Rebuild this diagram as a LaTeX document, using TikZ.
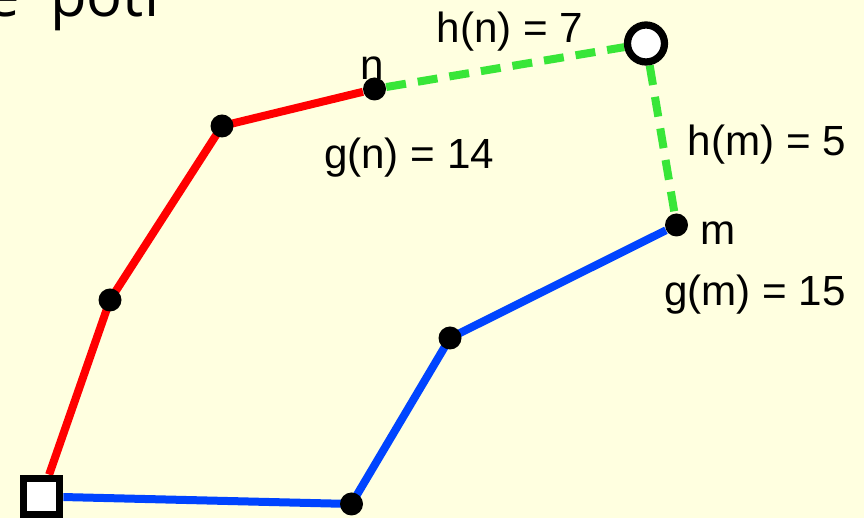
\documentclass[tikz,border=0pt]{standalone}
\usepackage{fontspec}
\setmainfont{Liberation Sans}
\newfontfamily\headfont{Open Sans}
\usepackage{xcolor}
\usepackage{tikz}
\usetikzlibrary{
  positioning,
  backgrounds
}
\definecolor{paper}{RGB}{255,255,224}
\definecolor{pathred}{RGB}{255,0,0}
\definecolor{pathblue}{RGB}{0,68,255}
\definecolor{estgreen}{RGB}{56,230,56}

\begin{document}
\begin{tikzpicture}[x=0.2mm, y=-0.2mm,
  dot/.style={circle, fill=black, inner sep=0pt, minimum size=4.6mm},
  startbox/.style={draw=black, fill=white, line width=1.45mm, minimum size=7.3mm, inner sep=0pt},
  goalring/.style={circle, draw=black, fill=white, line width=1.45mm, minimum size=7.4mm, inner sep=0pt},
  redpath/.style={draw=pathred, line width=1.6mm},
  bluepath/.style={draw=pathblue, line width=1.6mm},
  estimate/.style={draw=estgreen, line width=1.6mm, dash pattern=on 4mm off 2.4mm},
  lbl/.style={font=\fontsize{24}{28}\selectfont, inner sep=0pt}]
\useasboundingbox (0,0) rectangle (864,518);

% heading, cut off at the top
\node[anchor=base west, inner sep=0pt, font=\headfont\fontsize{34}{38}\selectfont]
  (head) at (-14,17) {e\hspace{0.25em} poti};

% labels
\node[lbl] (nlbl)  at (372,68.5) {n};
\node[lbl] (hn)    at (510,32)   {h(n) = 7};
\node[lbl] (gn)    at (409,158)  {g(n) = 14};
\node[lbl] (hm)    at (767,145)  {h(m) = 5};
\node[lbl] (mlbl)  at (718,233)  {m};
\node[lbl] (gm)    at (755,295)  {g(m) = 15};

% states
\node[startbox] (start) at (41.5,496.5) {};
\node[goalring] (goal)  at (646,43.5) {};
\node[dot] (r1) at (110,300) {};
\node[dot] (r2) at (222,126) {};
\node[dot] (n)  at (374.5,89) {};
\node[dot] (b1) at (351.5,504) {};
\node[dot] (b2) at (450,338) {};
\node[dot] (m)  at (676.5,225) {};

\begin{scope}[on background layer]
  \fill[paper] (0,0) rectangle (864,518);
  \draw[redpath] (start) -- (r1.center) -- (r2.center) -- (n);
  \draw[bluepath] (start) -- (b1.center) -- (b2.center) -- (m);
  \draw[estimate] (n) -- (goal) -- (m);
\end{scope}
\end{tikzpicture}
\end{document}
